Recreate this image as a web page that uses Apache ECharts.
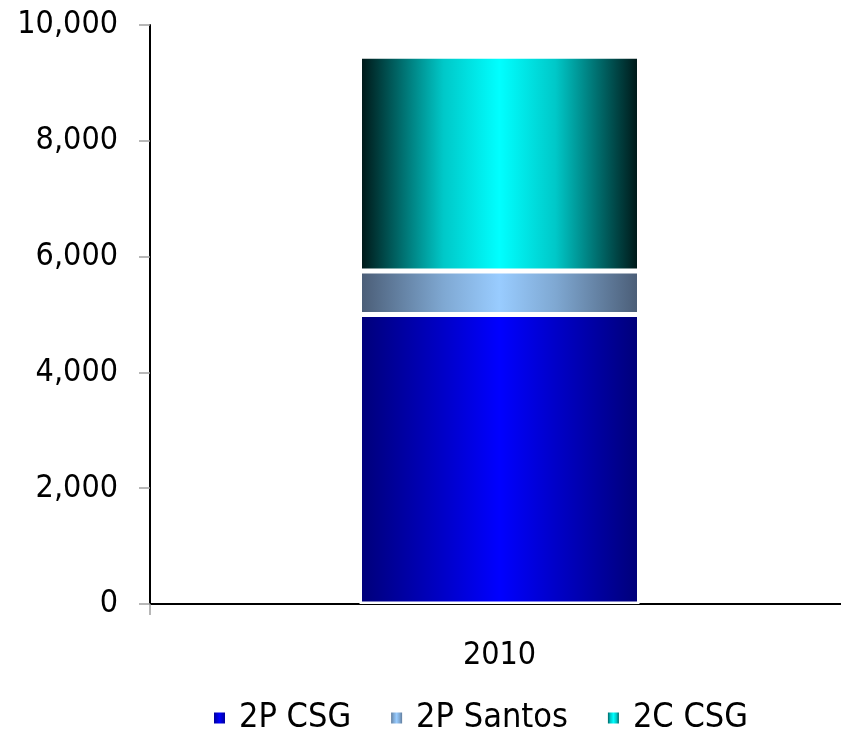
<!DOCTYPE html>
<html>
<head>
<meta charset="utf-8">
<script src="https://cdn.jsdelivr.net/npm/echarts@6/dist/echarts.min.js"></script>
<style>
html,body{margin:0;padding:0;background:#fff;}
#c{width:841px;height:734px;}
</style>
</head>
<body>
<div id="c"></div>
<script>
const categories = ['2010'];
const seriesNames = ['2P CSG', '2P Santos', '2C CSG'];
const csg2P = [5000];
const santos2P = [750];
const csg2C = [3710];
const yTicks = [0, 2000, 4000, 6000, 8000, 10000];

const FONT = "'DejaVu Sans Condensed', 'DejaVu Sans', sans-serif";

function grad(edge, mid1, mid) {
  return new echarts.graphic.LinearGradient(0, 0, 1, 0, [
    { offset: 0, color: edge },
    { offset: 0.3, color: mid1 },
    { offset: 0.5, color: mid },
    { offset: 0.7, color: mid1 },
    { offset: 1, color: edge }
  ]);
}

const chart = echarts.init(document.getElementById('c'), null, { renderer: 'canvas' });
const barStyle = (edge, mid1, mid) => ({
  color: grad(edge, mid1, mid),
  borderColor: '#ffffff',
  borderWidth: 2.5
});

chart.setOption({
  animation: false,
  backgroundColor: '#ffffff',
  textStyle: { fontFamily: FONT },
  grid: { left: 150, right: -8, top: 25, bottom: 130, containLabel: false, outerBoundsMode: 'none' },
  legend: {
    data: seriesNames,
    left: 212,
    top: 699,
    padding: 0,
    icon: 'rect',
    itemWidth: 13,
    itemHeight: 13,
    itemGap: 38,
    textStyle: { fontSize: 34, fontFamily: FONT, color: '#000', padding: [0, 0, 0, 8], lineHeight: 38 }
  },
  xAxis: {
    type: 'category',
    data: categories,
    axisLine: { show: true, lineStyle: { color: '#000', width: 2 } },
    axisTick: { show: true, length: 11, lineStyle: { color: '#a0a0a0', width: 1.5 } },
    axisLabel: { fontSize: 32, color: '#000', fontFamily: FONT, margin: 36 }
  },
  yAxis: {
    type: 'value',
    min: yTicks[0],
    max: yTicks[yTicks.length - 1],
    interval: yTicks[1] - yTicks[0],
    axisLine: { show: true, lineStyle: { color: '#000', width: 2 } },
    axisTick: { show: true, length: 11, lineStyle: { color: '#a0a0a0', width: 1.5 } },
    splitLine: { show: false },
    axisLabel: {
      fontSize: 32, color: '#000', fontFamily: FONT, margin: 32,
      formatter: v => v.toLocaleString('en-US')
    }
  },
  series: [
    { name: seriesNames[0], type: 'bar', stack: 'a', barWidth: 280, data: csg2P, itemStyle: barStyle('#000078', '#0000c8', '#0000ff') },
    { name: seriesNames[1], type: 'bar', stack: 'a', barWidth: 280, data: santos2P, itemStyle: barStyle('#4a5c75', '#7fa8d2', '#99ccff') },
    { name: seriesNames[2], type: 'bar', stack: 'a', barWidth: 280, data: csg2C, itemStyle: barStyle('#001414', '#00c8c8', '#00ffff') }
  ]
});
</script>
</body>
</html>
